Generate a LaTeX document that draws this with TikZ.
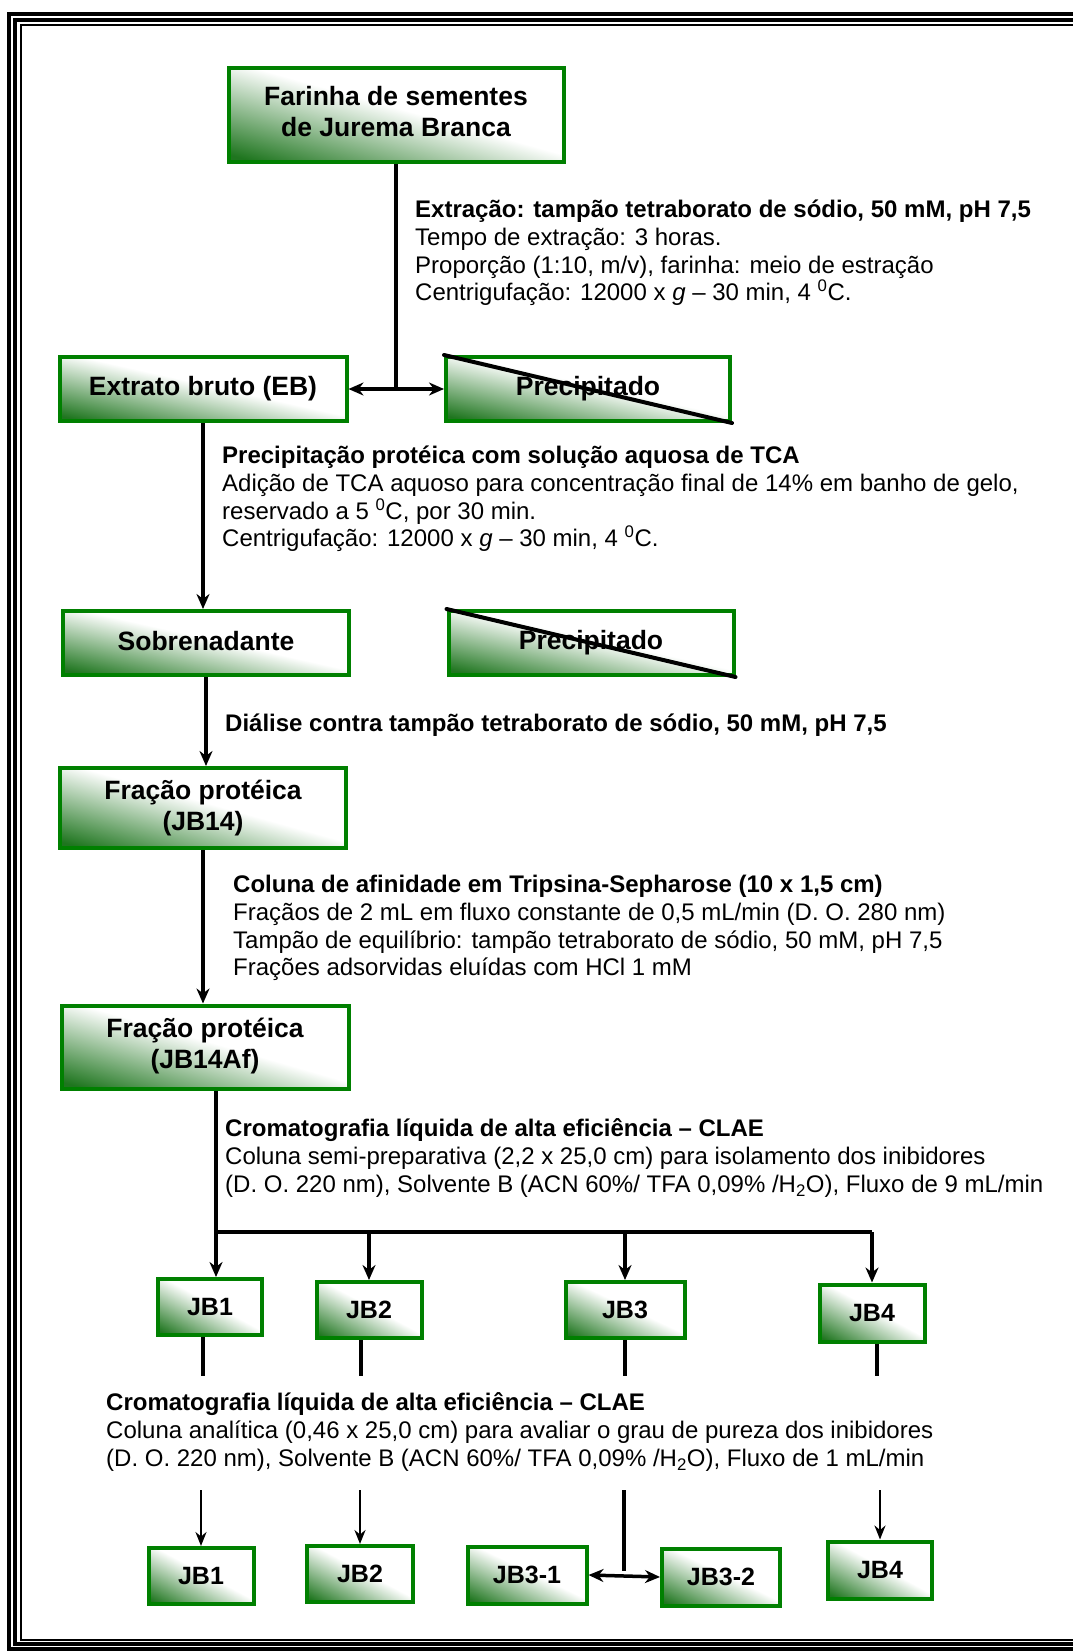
\documentclass[tikz,border=0pt]{standalone}
\usepackage{fontspec}
\setmainfont{Liberation Sans}
\usetikzlibrary{arrows.meta}

\definecolor{jverde}{RGB}{0,128,0}

% degrade diagonal: verde escuro no canto inferior esquerdo -> branco
\pgfdeclarefunctionalshading{jgrad}{\pgfpointorigin}{\pgfpoint{100bp}{100bp}}{}{
  add 50 sub 4 sub 50 div
  dup 0 lt {pop 0} if
  dup 1 gt {pop 1} if
  dup 0.88 mul 0.12 add
  exch dup 0.54 mul 0.46 add
  exch 0.88 mul 0.12 add
}

\tikzset{
  caixa/.style={draw=jverde, line width=4pt, inner sep=0pt, align=center,
    shading=jgrad,
    font=\bfseries\fontsize{26.5}{31}\selectfont},
  caixinha/.style={caixa, font=\bfseries\fontsize{25}{30}\selectfont},
  texto/.style={anchor=west, align=left, inner sep=0pt,
    font=\fontsize{24}{27.8}\selectfont},
  fio/.style={line width=3.5pt},
  seta/.style={line width=3.5pt, -{Stealth[length=15pt,width=13pt]}},
  setadupla/.style={line width=3.5pt, {Stealth[length=15pt,width=13pt]}-{Stealth[length=15pt,width=13pt]}},
  setafina/.style={line width=2.5pt, -{Stealth[length=14pt,width=11pt]}},
  cruz/.style={line width=4pt, line cap=round},
}

\begin{document}
\begin{tikzpicture}[x=1pt, y=-1pt]
\useasboundingbox (0,0) rectangle (1072,1651);
% moldura
\draw[line width=3.5pt] (9,14) rectangle (1200,1649);
\draw[line width=4pt] (15,20) rectangle (1200,1644);
\draw[line width=2pt] (21,25) rectangle (1200,1640);

% etapas
\node[caixa, minimum width=335, minimum height=94] (farinha) at (396,115) {\raisebox{3pt}{\begin{tabular}{@{}c@{}}Farinha de sementes\\de Jurema Branca\end{tabular}}};
\node[caixa, minimum width=287, minimum height=64] (eb) at (203,389) {\raisebox{2pt}{Extrato bruto (EB)}};
\node[caixa, minimum width=284, minimum height=64] (prec1) at (588,389) {\raisebox{3pt}{Precipitado}};
\node[caixa, minimum width=286, minimum height=64] (sobre) at (206,643) {\raisebox{5pt}{Sobrenadante}};
\node[caixa, minimum width=285, minimum height=64] (prec2) at (591,643) {\raisebox{2pt}{Precipitado}};
\node[caixa, minimum width=286, minimum height=80] (jb14) at (203,808) {Fração protéica\\(JB14)};
\node[caixa, minimum width=287, minimum height=83] (jb14af) at (205,1047) {\raisebox{-3pt}{\begin{tabular}{@{}c@{}}Fração protéica\\(JB14Af)\end{tabular}}};

% fracoes da CLAE
\node[caixinha, minimum width=104, minimum height=56] (jb1) at (210,1307) {JB1};
\node[caixinha, minimum width=105, minimum height=56] (jb2) at (369,1310) {JB2};
\node[caixinha, minimum width=119, minimum height=56] (jb3) at (625,1310) {JB3};
\node[caixinha, minimum width=105, minimum height=57] (jb4) at (872,1313) {\raisebox{-2pt}{JB4}};

\node[caixinha, minimum width=105, minimum height=56] (jb1f) at (201,1576) {JB1};
\node[caixinha, minimum width=106, minimum height=56] (jb2f) at (360,1574) {JB2};
\node[caixinha, minimum width=119, minimum height=57] (jb31) at (527,1575) {JB3-1};
\node[caixinha, minimum width=118, minimum height=57] (jb32) at (721,1577) {JB3-2};
\node[caixinha, minimum width=104, minimum height=57] (jb4f) at (880,1570) {JB4};

% precipitados descartados
\draw[cruz] (prec1.north west) -- (prec1.south east);
\draw[cruz] (prec2.north west) -- (prec2.south east);

% textos das etapas
\node[texto] (t1) at (415,253) {\textbf{Extração: tampão tetraborato de sódio, 50 mM, pH 7,5}\\Tempo de extração: 3 horas.\\Proporção (1:10, m/v), farinha: meio de estração\\Centrigufação: 12000 x \textit{g} – 30 min, 4 \textsuperscript{0}C.};
\node[texto] (t2) at (222,499) {\textbf{Precipitação protéica com solução aquosa de TCA}\\Adição de TCA aquoso para concentração final de 14\% em banho de gelo,\\reservado a 5 \textsuperscript{0}C, por 30 min.\\Centrigufação: 12000 x \textit{g} – 30 min, 4 \textsuperscript{0}C.};
\node[texto] (t3) at (225,725) {\textbf{Diálise contra tampão tetraborato de sódio, 50 mM, pH 7,5}};
\node[texto] (t4) at (233,928) {\textbf{Coluna de afinidade em Tripsina-Sepharose (10 x 1,5 cm)}\\Fraçãos de 2 mL em fluxo constante de 0,5 mL/min (D. O. 280 nm)\\Tampão de equilíbrio: tampão tetraborato de sódio, 50 mM, pH 7,5\\Frações adsorvidas eluídas com HCl 1 mM};
\node[texto] (t5) at (225,1158) {\textbf{Cromatografia líquida de alta eficiência – CLAE}\\Coluna semi-preparativa (2,2 x 25,0 cm) para isolamento dos inibidores\\(D. O. 220 nm), Solvente B (ACN 60\%/ TFA 0,09\% /H\textsubscript{2}O), Fluxo de 9 mL/min};
\node[texto] (t6) at (106,1432) {\textbf{Cromatografia líquida de alta eficiência – CLAE}\\Coluna analítica (0,46 x 25,0 cm) para avaliar o grau de pureza dos inibidores\\(D. O. 220 nm), Solvente B (ACN 60\%/ TFA 0,09\% /H\textsubscript{2}O), Fluxo de 1 mL/min};

% ligacoes
\draw[fio] (farinha.south) -- (farinha.south |- eb.east);
\draw[setadupla] (eb.east) -- (prec1.west);
\draw[seta] (eb.south) -- (eb.south |- sobre.north);
\draw[seta] (sobre.south) -- (sobre.south |- jb14.north);
\draw[seta] (jb14.south) -- (jb14.south |- jb14af.north);

\coordinate (ramo) at (216,1232);
\draw[fio] (ramo |- jb14af.south) -- (ramo) -- (jb4.north |- ramo);
\draw[seta] (ramo) -- (ramo |- jb1.north);
\draw[seta] (jb2.north |- ramo) -- (jb2.north);
\draw[seta] (jb3.north |- ramo) -- (jb3.north);
\draw[seta] (jb4.north |- ramo) -- (jb4.north);

% tracos sob as fracoes
\coordinate (corte) at (0,1376);
\draw[fio] (jb1.south) ++(-7,0) -- (203,1376);
\draw[fio] (jb2.south) ++(-8,0) -- (361,1376);
\draw[fio] (jb3.south) -- (jb3.south |- corte);
\draw[fio] (jb4.south) ++(5,0) -- (877,1376);

% analise de pureza
\coordinate (volta) at (0,1490);
\draw[setafina] (jb1f.north |- volta) -- (jb1f.north);
\draw[setafina] (jb2f.north |- volta) -- (jb2f.north);
\coordinate (meio3) at (624,1571);
\draw[fio] (meio3 |- volta) -- (meio3);
\draw[setadupla] (jb31.east) -- (jb32.west);
\draw[setafina] (jb4f.north |- volta) -- (jb4f.north);
\end{tikzpicture}
\end{document}
